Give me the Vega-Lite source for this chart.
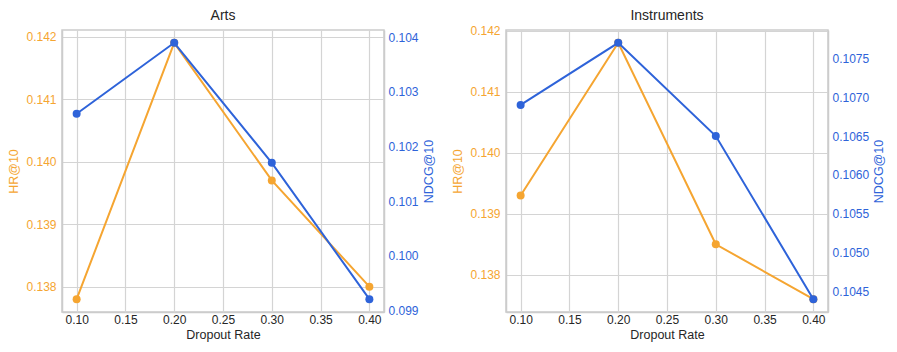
{
  "$schema": "https://vega.github.io/schema/vega-lite/v6.json",
  "padding": {"left": 7, "top": 9, "right": 5, "bottom": 5},
  "background": "white",
  "config": {
    "font": "Liberation Sans",
    "view": {"stroke": "#cccccc", "strokeWidth": 1.5},
    "axis": {
      "domainColor": "#cccccc",
      "domainWidth": 1.5,
      "gridColor": "#d4d4d4",
      "gridWidth": 1.2,
      "ticks": false,
      "labelFontSize": 12,
      "titleFontSize": 12.5,
      "titleFontWeight": "normal",
      "labelFont": "Liberation Sans",
      "titleFont": "Liberation Sans"
    }
  },
  "data": {
    "values": [
      {"dataset": "Arts", "dropout": 0.1, "hr": 0.1378, "ndcg": 0.1026},
      {"dataset": "Arts", "dropout": 0.2, "hr": 0.1419, "ndcg": 0.1039},
      {"dataset": "Arts", "dropout": 0.3, "hr": 0.1397, "ndcg": 0.1017},
      {"dataset": "Arts", "dropout": 0.4, "hr": 0.1380, "ndcg": 0.0992},
      {"dataset": "Instruments", "dropout": 0.1, "hr": 0.1393, "ndcg": 0.1069},
      {"dataset": "Instruments", "dropout": 0.2, "hr": 0.1418, "ndcg": 0.1077},
      {"dataset": "Instruments", "dropout": 0.3, "hr": 0.1385, "ndcg": 0.1065},
      {"dataset": "Instruments", "dropout": 0.4, "hr": 0.1376, "ndcg": 0.1044}
    ]
  },
  "facet": {
    "column": {
      "field": "dataset", "type": "nominal", "sort": ["Arts", "Instruments"],
      "header": {"title": null, "labelFontSize": 14, "labelColor": "#262626", "labelFont": "Liberation Sans", "labelPadding": 7, "labelOrient": "top", "labelAnchor": "middle"}
    }
  },
  "bounds": "flush",
  "spacing": 122,
  "resolve": {"scale": {"y": "independent"}, "axis": {"y": "independent"}},
  "spec": {
    "width": 322,
    "height": 282,
    "encoding": {
      "x": {
        "field": "dropout", "type": "quantitative", "title": "Dropout Rate",
        "scale": {"domain": [0.085, 0.415], "nice": false, "zero": false},
        "axis": {"values": [0.1, 0.15, 0.2, 0.25, 0.3, 0.35, 0.4], "format": ".2f", "labelColor": "#262626", "titleColor": "#262626", "labelPadding": 2, "titlePadding": 3}
      }
    },
    "layer": [
      {
        "mark": {"type": "line", "color": "#F5A531", "strokeWidth": 2, "point": {"filled": true, "size": 64, "color": "#F5A531", "opacity": 1}},
        "encoding": {
          "y": {
            "field": "hr", "type": "quantitative", "title": "HR@10",
            "scale": {"nice": false, "zero": false, "padding": 12.8},
            "axis": {"orient": "left", "tickCount": 5, "labelColor": "#F5A531", "titleColor": "#F5A531", "labelPadding": 6, "titlePadding": 5}
          }
        }
      },
      {
        "mark": {"type": "line", "color": "#2E63D9", "strokeWidth": 2, "point": {"filled": true, "size": 64, "color": "#2E63D9", "opacity": 1}},
        "encoding": {
          "y": {
            "field": "ndcg", "type": "quantitative", "title": "NDCG@10",
            "scale": {"nice": false, "zero": false, "padding": 12.8},
            "axis": {"orient": "right", "tickCount": 6, "labelColor": "#2E63D9", "titleColor": "#2E63D9", "labelPadding": 4, "titlePadding": 4, "titleAngle": 270, "titleBaseline": "top"}
          }
        }
      }
    ],
    "resolve": {"scale": {"y": "independent"}}
  }
}
